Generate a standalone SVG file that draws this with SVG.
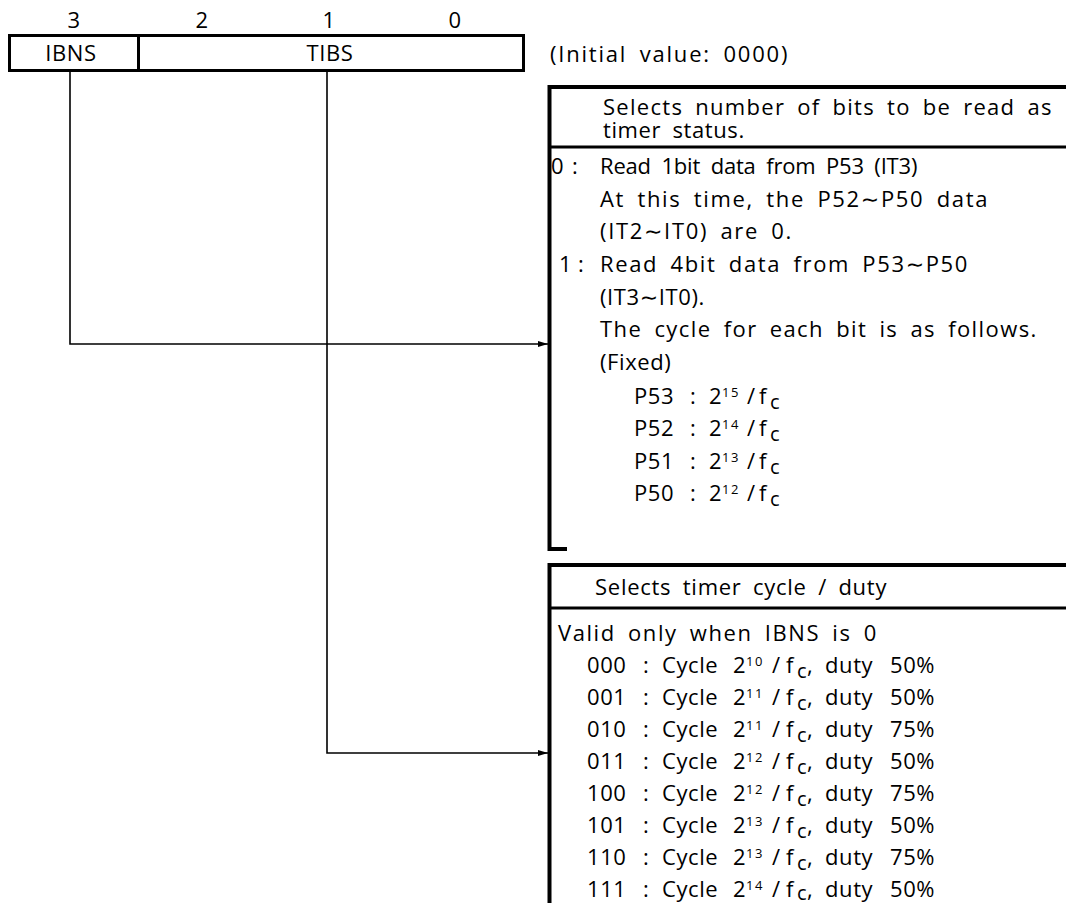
<svg xmlns="http://www.w3.org/2000/svg" width="1066" height="903" viewBox="0 0 1066 903">
<defs>
<marker id="arr" markerWidth="10" markerHeight="8" refX="10" refY="4" orient="auto" markerUnits="userSpaceOnUse"><path d="M0,1 L10,4 L0,7 z" fill="#000"/></marker>
</defs>
<style>
text{font-family:"Open Sans","Noto Sans","DejaVu Sans",sans-serif;font-size:22px;fill:#000;letter-spacing:0.6px}
.ws{word-spacing:5px}
.sup{font-size:13px;letter-spacing:1.5px}
.sub{font-size:20px;letter-spacing:0}
.mid{text-anchor:middle}
.frame{stroke:#000;stroke-width:4;fill:none}
.div{stroke:#000;stroke-width:3;fill:none}
.reg{stroke:#000;stroke-width:3;fill:none}
.conn{stroke:#000;stroke-width:1.6;fill:none}
</style>
<rect width="1066" height="903" fill="#fff"/>

<g id="register">
<text class="mid" x="74" y="28">3</text>
<text class="mid" x="202" y="28">2</text>
<text class="mid" x="329" y="28">1</text>
<text class="mid" x="455" y="28">0</text>
<rect class="reg" x="9.5" y="35.5" width="514" height="35"/>
<line class="reg" x1="138.5" y1="35.5" x2="138.5" y2="70.5"/>
<text class="mid" x="71" y="61">IBNS</text>
<text class="mid" x="330" y="61">TIBS</text>
<text class="ws" x="550" y="62" textLength="238" lengthAdjust="spacing">(Initial value: 0000)</text>
</g>

<g id="connectors">
<path class="conn" d="M70,71 V344 H548" marker-end="url(#arr)"/>
<path class="conn" d="M327,71 V753 H548" marker-end="url(#arr)"/>
</g>

<g id="ibns-desc">
<path class="frame" d="M1066,87 H549.5 V549 H567"/>
<line class="div" x1="549" y1="147" x2="1066" y2="147"/>
<text class="ws" x="603" y="115" textLength="449" lengthAdjust="spacing">Selects number of bits to be read as</text>
<text class="ws" x="603" y="138">timer status.</text>
<text x="551" y="174">0</text><text x="572" y="174">:</text>
<text class="ws" x="600" y="174" textLength="318" lengthAdjust="spacing">Read 1bit data from P53 (IT3)</text>
<text class="ws" x="600" y="207" textLength="388" lengthAdjust="spacing">At this time, the P52∼P50 data</text>
<text class="ws" x="600" y="239" textLength="192" lengthAdjust="spacing">(IT2∼IT0) are 0.</text>
<text x="559" y="272">1</text><text x="578" y="272">:</text>
<text class="ws" x="600" y="272" textLength="368" lengthAdjust="spacing">Read 4bit data from P53∼P50</text>
<text class="ws" x="600" y="305">(IT3∼IT0).</text>
<text class="ws" x="600" y="337" textLength="437" lengthAdjust="spacing">The cycle for each bit is as follows.</text>
<text class="ws" x="600" y="370">(Fixed)</text>
<g id="p53"><text x="634" y="404">P53</text><text x="690" y="404">:</text><text x="709" y="404">2</text><text class="sup" x="722" y="397">15</text><text x="747" y="404">/</text><text x="759" y="404">f</text><text class="sub" x="770" y="409">c</text></g>
<g id="p52"><text x="634" y="436">P52</text><text x="690" y="436">:</text><text x="709" y="436">2</text><text class="sup" x="722" y="429">14</text><text x="747" y="436">/</text><text x="759" y="436">f</text><text class="sub" x="770" y="441">c</text></g>
<g id="p51"><text x="634" y="469">P51</text><text x="690" y="469">:</text><text x="709" y="469">2</text><text class="sup" x="722" y="462">13</text><text x="747" y="469">/</text><text x="759" y="469">f</text><text class="sub" x="770" y="474">c</text></g>
<g id="p50"><text x="634" y="501">P50</text><text x="690" y="501">:</text><text x="709" y="501">2</text><text class="sup" x="722" y="494">12</text><text x="747" y="501">/</text><text x="759" y="501">f</text><text class="sub" x="770" y="506">c</text></g>
</g>

<g id="tibs-desc">
<path class="frame" d="M1066,565 H549.5 V903"/>
<line class="div" x1="549" y1="608" x2="1066" y2="608"/>
<text class="ws" x="595" y="595" textLength="292" lengthAdjust="spacing">Selects timer cycle / duty</text>
<text class="ws" x="558" y="641" textLength="319" lengthAdjust="spacing">Valid only when IBNS is 0</text>
<g id="r000"><text x="587" y="673">000</text><text x="643" y="673">:</text><text x="662" y="673">Cycle</text><text x="733" y="673">2</text><text class="sup" x="746" y="666">10</text><text x="772" y="673">/</text><text x="786" y="673">f</text><text class="sub" x="797" y="678">c</text><text x="807" y="673">,</text><text x="825" y="673">duty</text><text x="890" y="673">50%</text></g>
<g id="r001"><text x="587" y="705">001</text><text x="643" y="705">:</text><text x="662" y="705">Cycle</text><text x="733" y="705">2</text><text class="sup" x="746" y="698">11</text><text x="772" y="705">/</text><text x="786" y="705">f</text><text class="sub" x="797" y="710">c</text><text x="807" y="705">,</text><text x="825" y="705">duty</text><text x="890" y="705">50%</text></g>
<g id="r010"><text x="587" y="737">010</text><text x="643" y="737">:</text><text x="662" y="737">Cycle</text><text x="733" y="737">2</text><text class="sup" x="746" y="730">11</text><text x="772" y="737">/</text><text x="786" y="737">f</text><text class="sub" x="797" y="742">c</text><text x="807" y="737">,</text><text x="825" y="737">duty</text><text x="890" y="737">75%</text></g>
<g id="r011"><text x="587" y="769">011</text><text x="643" y="769">:</text><text x="662" y="769">Cycle</text><text x="733" y="769">2</text><text class="sup" x="746" y="762">12</text><text x="772" y="769">/</text><text x="786" y="769">f</text><text class="sub" x="797" y="774">c</text><text x="807" y="769">,</text><text x="825" y="769">duty</text><text x="890" y="769">50%</text></g>
<g id="r100"><text x="587" y="801">100</text><text x="643" y="801">:</text><text x="662" y="801">Cycle</text><text x="733" y="801">2</text><text class="sup" x="746" y="794">12</text><text x="772" y="801">/</text><text x="786" y="801">f</text><text class="sub" x="797" y="806">c</text><text x="807" y="801">,</text><text x="825" y="801">duty</text><text x="890" y="801">75%</text></g>
<g id="r101"><text x="587" y="833">101</text><text x="643" y="833">:</text><text x="662" y="833">Cycle</text><text x="733" y="833">2</text><text class="sup" x="746" y="826">13</text><text x="772" y="833">/</text><text x="786" y="833">f</text><text class="sub" x="797" y="838">c</text><text x="807" y="833">,</text><text x="825" y="833">duty</text><text x="890" y="833">50%</text></g>
<g id="r110"><text x="587" y="865">110</text><text x="643" y="865">:</text><text x="662" y="865">Cycle</text><text x="733" y="865">2</text><text class="sup" x="746" y="858">13</text><text x="772" y="865">/</text><text x="786" y="865">f</text><text class="sub" x="797" y="870">c</text><text x="807" y="865">,</text><text x="825" y="865">duty</text><text x="890" y="865">75%</text></g>
<g id="r111"><text x="587" y="897">111</text><text x="643" y="897">:</text><text x="662" y="897">Cycle</text><text x="733" y="897">2</text><text class="sup" x="746" y="890">14</text><text x="772" y="897">/</text><text x="786" y="897">f</text><text class="sub" x="797" y="900">c</text><text x="807" y="897">,</text><text x="825" y="897">duty</text><text x="890" y="897">50%</text></g>
</g>
</svg>
